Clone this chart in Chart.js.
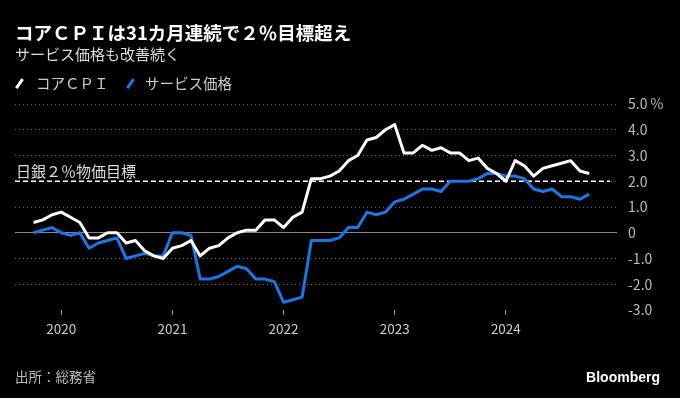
<!DOCTYPE html>
<html lang="ja">
<head>
<meta charset="UTF-8">
<title>コアCPIとサービス価格</title>
<script src="https://cdn.jsdelivr.net/npm/chart.js"></script>
<style>
  body { margin: 0; background: #000; font-family: "Noto Sans CJK JP", "Noto Sans", sans-serif; }
  .wrap { position: relative; width: 680px; height: 398px; overflow: hidden; background: #000; }
  canvas { position: absolute; left: 0; top: 0; }
  .txt { position: absolute; line-height: 1; white-space: nowrap; }
  .title { left: 15px; top: 23px; font-size: 18.5px; font-weight: bold; color: #fff; }
  .sub { left: 15px; top: 46px; font-size: 15px; color: #ddd; }
  .leg { top: 76px; font-size: 14.5px; color: #ccc; }
  .sw { position: absolute; top: 78px; width: 2.6px; height: 11px; transform: rotate(35deg); }
  .src { left: 15px; top: 370px; font-size: 13.5px; color: #bbb; }
  .brand { right: 20px; top: 370px; font-family: "Liberation Sans", Arial, sans-serif; font-weight: bold; font-size: 14px; color: #fff; }
</style>
</head>
<body>
<div class="wrap">
  <canvas id="cpiChart" width="680" height="398"></canvas>
  <div class="txt title">コアＣＰＩは31カ月連続で２％目標超え</div>
  <div class="txt sub">サービス価格も改善続く</div>
  <span class="sw" style="left:18px; background:#fff;"></span>
  <div class="txt leg" style="left:36px;">コアＣＰＩ</div>
  <span class="sw" style="left:129px; background:#1778e8;"></span>
  <div class="txt leg" style="left:145px;">サービス価格</div>
  <div class="txt src">出所：総務省</div>
  <div class="txt brand">Bloomberg</div>
</div>

<script>
  // 月（2019年10月～2024年10月）
  const months = [
    '2019-10', '2019-11', '2019-12',
    '2020-01', '2020-02', '2020-03', '2020-04', '2020-05', '2020-06', '2020-07', '2020-08', '2020-09', '2020-10', '2020-11', '2020-12',
    '2021-01', '2021-02', '2021-03', '2021-04', '2021-05', '2021-06', '2021-07', '2021-08', '2021-09', '2021-10', '2021-11', '2021-12',
    '2022-01', '2022-02', '2022-03', '2022-04', '2022-05', '2022-06', '2022-07', '2022-08', '2022-09', '2022-10', '2022-11', '2022-12',
    '2023-01', '2023-02', '2023-03', '2023-04', '2023-05', '2023-06', '2023-07', '2023-08', '2023-09', '2023-10', '2023-11', '2023-12',
    '2024-01', '2024-02', '2024-03', '2024-04', '2024-05', '2024-06', '2024-07', '2024-08', '2024-09', '2024-10'
  ];

  // コアCPI（前年比 %）
  const coreCpi = [
    0.4, 0.5, 0.7,
    0.8, 0.6, 0.4, -0.2, -0.2, 0.0, 0.0, -0.4, -0.3, -0.7, -0.9, -1.0,
    -0.6, -0.5, -0.3, -0.9, -0.6, -0.5, -0.2, 0.0, 0.1, 0.1, 0.5, 0.5,
    0.2, 0.6, 0.8, 2.1, 2.1, 2.2, 2.4, 2.8, 3.0, 3.6, 3.7, 4.0,
    4.2, 3.1, 3.1, 3.4, 3.2, 3.3, 3.1, 3.1, 2.8, 2.9, 2.5, 2.3,
    2.0, 2.8, 2.6, 2.2, 2.5, 2.6, 2.7, 2.8, 2.4, 2.3
  ];

  // サービス価格（前年比 %）
  const services = [
    0.0, 0.1, 0.2,
    0.0, -0.1, 0.0, -0.6, -0.4, -0.3, -0.2, -1.0, -0.9, -0.8, -0.9, -0.9,
    0.0, 0.0, -0.1, -1.8, -1.8, -1.7, -1.5, -1.3, -1.4, -1.8, -1.8, -1.9,
    -2.7, -2.6, -2.5, -0.3, -0.3, -0.3, -0.2, 0.2, 0.2, 0.8, 0.7, 0.8,
    1.2, 1.3, 1.5, 1.7, 1.7, 1.6, 2.0, 2.0, 2.0, 2.1, 2.3, 2.3,
    2.2, 2.2, 2.1, 1.7, 1.6, 1.7, 1.4, 1.4, 1.3, 1.5
  ];

  const yearTicks = ['2020', '2021', '2022', '2023', '2024'];
  const yTicks = [5, 4, 3, 2, 1, 0, -1, -2, -3];
  const targetRate = 2;
  const targetLabel = '日銀２％物価目標';

  // 日銀目標の破線とラベル
  const targetLine = {
    id: 'targetLine',
    beforeDatasetsDraw(chart) {
      const { ctx, chartArea, scales } = chart;
      const y = scales.y.getPixelForValue(targetRate);
      ctx.save();
      ctx.strokeStyle = '#fff';
      ctx.lineWidth = 1.5;
      ctx.setLineDash([5, 3]);
      ctx.beginPath();
      ctx.moveTo(chartArea.left, y);
      ctx.lineTo(chartArea.right - 7, y);
      ctx.stroke();
      ctx.fillStyle = '#ddd';
      ctx.font = '15px "Noto Sans CJK JP", "Noto Sans", sans-serif';
      ctx.textBaseline = 'middle';
      ctx.fillText(targetLabel, chartArea.left + 1, y - 10);
      ctx.restore();
    }
  };

  const toPoints = arr => arr.map((v, i) => ({ x: i, y: v }));

  new Chart(document.getElementById('cpiChart'), {
    type: 'line',
    data: {
      datasets: [
        {
          label: 'コアＣＰＩ',
          data: toPoints(coreCpi),
          borderColor: '#fff',
          borderWidth: 3,
          pointRadius: 0,
          borderJoinStyle: 'round'
        },
        {
          label: 'サービス価格',
          data: toPoints(services),
          borderColor: '#1778e8',
          borderWidth: 3,
          pointRadius: 0,
          borderJoinStyle: 'round'
        }
      ]
    },
    options: {
      responsive: false,
      animation: false,
      layout: { padding: { left: 15, top: 104, right: 0, bottom: 0 } },
      plugins: {
        legend: { display: false },
        tooltip: { enabled: false }
      },
      scales: {
        x: {
          type: 'linear',
          min: -2,
          max: 63,
          afterBuildTicks: s => { s.ticks = yearTicks.map(y => ({ value: months.indexOf(y + '-01') })); },
          afterFit: s => { s.height = 88; },
          ticks: {
            callback: v => months[v].slice(0, 4),
            color: '#ccc',
            font: { size: 13.5, family: '"Noto Sans CJK JP", "Noto Sans", sans-serif' },
            padding: 6,
            maxRotation: 0,
            autoSkip: false
          },
          grid: { drawOnChartArea: false, tickLength: 5, tickColor: '#999', tickWidth: 1 },
          border: { display: false }
        },
        y: {
          position: 'right',
          min: -3,
          max: 5,
          afterBuildTicks: s => { s.ticks = yTicks.map(v => ({ value: v })); },
          afterFit: s => { s.width = 63; },
          ticks: {
            callback: v => v === 5 ? '5.0 %' : (v === 0 ? '0' : v.toFixed(1)),
            color: '#bbb',
            font: { size: 14, family: '"Noto Sans CJK JP", "Noto Sans", sans-serif' },
            padding: 11
          },
          grid: {
            drawTicks: false,
            lineWidth: 1,
            color: c => c.tick.value === 0 ? '#888' : (c.tick.value === -3 ? 'rgba(0,0,0,0)' : '#6a6a6a')
          },
          border: {
            display: false,
            dash: c => (c.tick && c.tick.value === 0) ? [] : [1, 3]
          }
        }
      }
    },
    plugins: [targetLine]
  });
</script>
</body>
</html>
